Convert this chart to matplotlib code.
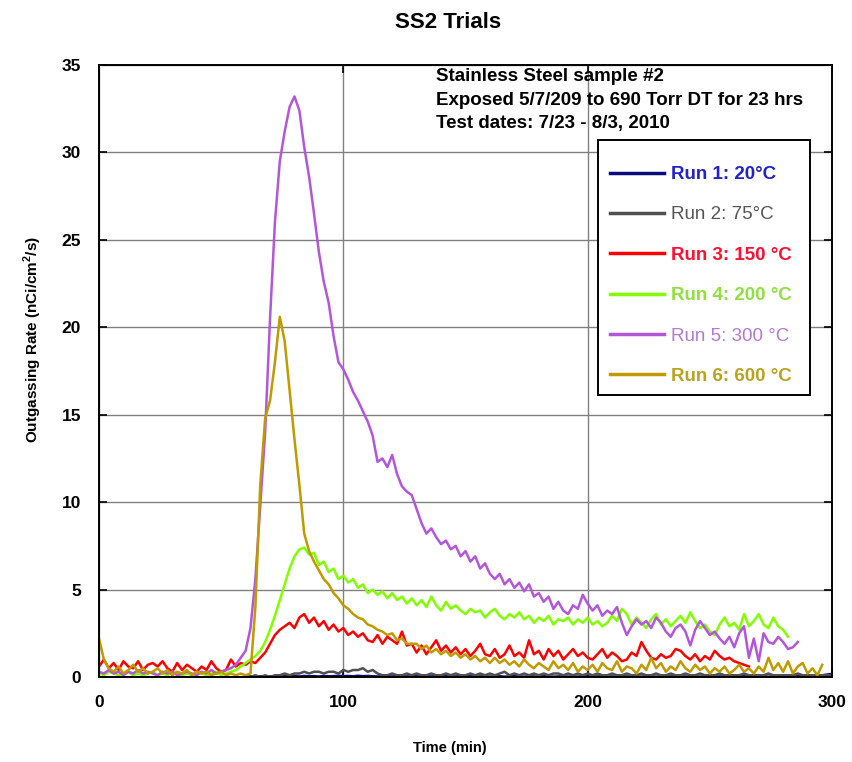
import numpy as np
import matplotlib
matplotlib.use("Agg")
import matplotlib.pyplot as plt
from matplotlib.patches import Rectangle

plt.rcParams['font.family'] = ['Liberation Sans', 'DejaVu Sans']

step = 2

# Run 1: 20 C (starts at t = 60 min)
run1 = [0.02, 0.03, 0.01, 0.04, 0.02, 0.03, 0.05, 0.02, 0.04, 0.03,
        0.05, 0.03, 0.06, 0.04, 0.05, 0.03, 0.06, 0.04, 0.05, 0.07,
        0.05, 0.06, 0.04, 0.07, 0.05, 0.06, 0.04, 0.03, 0.05, 0.04,
        0.03, 0.05, 0.04, 0.03, 0.05, 0.04, 0.02, 0.04, 0.03, 0.05,
        0.03, 0.04, 0.02, 0.03, 0.05, 0.03, 0.04, 0.02, 0.03, 0.04,
        0.02, 0.03, 0.04, 0.02, 0.03, 0.05, 0.03, 0.02, 0.04, 0.03,
        0.02, 0.04, 0.03, 0.02, 0.03, 0.04, 0.02, 0.03, 0.02, 0.04,
        0.03, 0.02, 0.03, 0.04, 0.02, 0.03, 0.02, 0.04, 0.03, 0.02,
        0.03, 0.02, 0.04, 0.03, 0.02, 0.03, 0.02, 0.03, 0.04, 0.02,
        0.03, 0.02, 0.03, 0.02, 0.04, 0.03, 0.02, 0.03, 0.02, 0.03,
        0.02, 0.03, 0.04, 0.02, 0.03, 0.02, 0.03, 0.02, 0.03, 0.02,
        0.03, 0.02, 0.03, 0.04, 0.03, 0.05, 0.06, 0.08, 0.10, 0.14,
        0.18]

# Run 2: 75 C (starts at t = 60 min)
run2 = [0.0, 0.0, 0.1, 0.0, 0.1, 0.0, 0.1, 0.1, 0.2, 0.1,
        0.2, 0.2, 0.3, 0.2, 0.3, 0.3, 0.2, 0.3, 0.3, 0.2,
        0.4, 0.3, 0.4, 0.4, 0.5, 0.3, 0.4, 0.2, 0.1, 0.1,
        0.2, 0.1, 0.1, 0.2, 0.1, 0.2, 0.1, 0.1, 0.2, 0.1,
        0.1, 0.2, 0.1, 0.2, 0.1, 0.1, 0.2, 0.1, 0.2, 0.1,
        0.2, 0.1, 0.2, 0.3, 0.1, 0.2, 0.1, 0.2, 0.1, 0.2,
        0.1, 0.2, 0.1, 0.2, 0.2, 0.1, 0.2, 0.1, 0.2, 0.1,
        0.2, 0.1, 0.2, 0.1, 0.1, 0.2, 0.1, 0.1, 0.2, 0.1,
        0.1, 0.2, 0.1, 0.1, 0.2, 0.1, 0.1, 0.2, 0.1, 0.1,
        0.2, 0.1, 0.1, 0.2, 0.1, 0.1, 0.1, 0.2, 0.1, 0.1,
        0.1, 0.1, 0.2, 0.1, 0.1, 0.1, 0.1, 0.2, 0.1, 0.1,
        0.1, 0.1, 0.1, 0.2, 0.1, 0.1, 0.1, 0.1, 0.1, 0.1,
        0.1]

# Run 3: 150 C (starts at t = 0)
run3 = [0.6, 1.0, 0.5, 0.8, 0.4, 0.9, 0.6, 0.5, 0.9, 0.4,
        0.7, 0.8, 0.6, 0.9, 0.5, 0.3, 0.8, 0.4, 0.7, 0.5,
        0.3, 0.6, 0.4, 0.9, 0.5, 0.3, 0.4, 1.0, 0.6, 0.8,
        0.7, 0.9, 0.8, 1.1, 1.4, 1.9, 2.4, 2.7, 2.9, 3.1,
        2.8, 3.4, 3.6, 3.1, 3.4, 2.9, 3.2, 2.7, 3.0, 2.6,
        2.8, 2.4, 2.6, 2.3, 2.5, 2.1, 2.0, 2.4, 1.9, 2.3,
        2.1, 1.9, 2.6, 1.8, 1.9, 1.4, 1.8, 1.3, 1.7, 2.1,
        1.5, 1.8, 1.4, 1.7, 1.3, 1.6, 1.2, 1.5, 1.9, 1.3,
        1.2, 1.6, 1.1, 1.3, 1.8, 1.2, 1.4, 1.1, 2.1, 1.3,
        1.5, 1.0, 1.6, 1.2, 1.5, 1.0, 1.3, 1.6, 1.2, 1.4,
        1.1, 1.0, 1.3, 1.6, 1.1, 1.4, 1.2, 0.9, 1.0, 1.4,
        1.2, 2.0, 1.5, 1.1, 1.0, 1.3, 1.1, 1.2, 1.6, 1.5,
        1.2, 1.0, 1.3, 0.9, 1.2, 1.0, 1.5, 1.2, 1.0, 1.1,
        0.9, 0.8, 0.7, 0.6]

# Run 4: 200 C (starts at t = 0)
run4 = [0.2, 0.1, 0.3, 0.2, 0.1, 0.2, 0.3, 0.1, 0.2, 0.1,
        0.2, 0.3, 0.1, 0.2, 0.1, 0.3, 0.2, 0.1, 0.2, 0.1,
        0.3, 0.2, 0.1, 0.2, 0.3, 0.1, 0.2, 0.3, 0.4, 0.6,
        0.8, 1.0, 1.2, 1.5, 2.0, 2.7, 3.5, 4.4, 5.3, 6.2,
        6.9, 7.3, 7.4, 7.0, 7.1, 6.4, 6.6, 6.0, 6.2, 5.6,
        5.8, 5.4, 5.6, 5.1, 5.3, 4.8, 5.0, 4.7, 4.9, 4.5,
        4.8, 4.4, 4.6, 4.2, 4.5, 4.1, 4.4, 4.0, 4.6, 4.1,
        3.8, 4.3, 3.9, 4.1, 3.8, 3.6, 3.9, 3.7, 3.8, 3.4,
        3.7, 3.9, 3.5, 3.3, 3.6, 3.4, 3.7, 3.3, 3.5, 3.1,
        3.4, 3.2, 3.5, 3.0, 3.3, 3.2, 3.4, 3.0, 3.3, 3.1,
        3.4, 3.0, 3.2, 2.9, 3.1, 3.5, 3.2, 3.9, 3.6, 3.0,
        3.4, 3.1, 2.8, 3.3, 3.6, 3.0, 3.3, 2.9, 3.2, 3.5,
        3.1, 3.7, 3.2, 2.8, 3.0, 2.6, 2.4, 3.0, 3.4, 2.9,
        3.1, 2.7, 3.6, 2.9, 3.2, 3.6, 3.0, 2.8, 3.4, 2.9,
        2.7, 2.3]

# Run 5: 300 C (starts at t = 0)
run5 = [0.3, 0.2, 0.4, 0.2, 0.3, 0.1, 0.3, 0.2, 0.4, 0.2,
        0.3, 0.2, 0.1, 0.3, 0.2, 0.3, 0.1, 0.2, 0.3, 0.2,
        0.1, 0.3, 0.2, 0.4, 0.2, 0.3, 0.4, 0.5, 0.7, 1.1,
        1.5, 2.8, 5.6, 9.8, 14.0, 20.5, 26.0, 29.5, 31.2, 32.6,
        33.2, 32.4, 30.3, 28.6, 26.5, 24.3, 22.6, 21.4, 19.5, 18.0,
        17.6, 17.0, 16.3, 15.8, 15.2, 14.6, 13.8, 12.3, 12.5, 12.0,
        12.7, 11.6, 10.9, 10.6, 10.4, 9.6, 8.8, 8.2, 8.5, 8.0,
        7.6, 7.8, 7.3, 7.5, 6.9, 7.2, 6.6, 6.9, 6.2, 6.5,
        5.9, 5.6, 5.9, 5.3, 5.6, 5.1, 5.4, 4.9, 5.3, 4.6,
        4.8, 4.3, 4.6, 3.9, 4.3, 3.8, 3.6, 4.1, 3.9, 4.7,
        4.2, 3.8, 4.1, 3.5, 3.8, 3.6, 4.0, 3.1, 2.4, 2.9,
        3.3, 3.0, 3.2, 2.8, 3.4, 3.1, 2.6, 2.3, 2.8, 3.0,
        2.6, 1.8, 2.7, 3.2, 2.8, 2.4, 2.6, 2.2, 1.9, 2.3,
        1.7, 2.5, 2.9, 1.1, 2.2, 0.9, 2.5, 2.0, 1.9, 2.3,
        2.0, 1.6, 1.7, 2.0]

# Run 6: 600 C (starts at t = 0)
run6 = [2.2, 1.0, 0.5, 0.3, 0.6, 0.2, 0.4, 0.7, 0.3, 0.5,
        0.2, 0.3, 0.5, 0.2, 0.4, 0.1, 0.3, 0.2, 0.4, 0.1,
        0.3, 0.2, 0.3, 0.1, 0.2, 0.3, 0.1, 0.2, 0.1, 0.2,
        0.1, 0.2, 4.0, 11.0, 14.8, 15.8, 18.0, 20.6, 19.2, 16.4,
        13.6, 11.0, 8.2, 7.2, 6.6, 6.1, 5.6, 5.3, 4.8, 4.5,
        4.1, 3.9, 3.6, 3.4, 3.3, 3.0, 2.9, 2.7, 2.6, 2.4,
        2.5, 2.1, 2.2, 1.9, 1.9, 1.9, 1.6, 1.8, 1.4, 1.6,
        1.3, 1.5, 1.2, 1.4, 1.1, 1.3, 1.0, 1.2, 0.9, 1.1,
        0.8, 1.1, 0.8, 1.0, 0.7, 0.9, 0.6, 1.0, 0.7, 0.5,
        0.8, 0.6, 0.4, 0.9, 0.5, 0.7, 0.4, 0.8, 0.3, 0.6,
        0.4, 0.7, 0.3, 0.8, 0.5, 0.4, 0.9, 0.3, 0.6, 0.5,
        0.2, 0.7, 0.4, 1.1, 0.5, 0.8, 0.3, 0.6, 0.4, 0.9,
        0.5, 0.3, 0.7, 0.4, 0.6, 0.2, 0.5, 0.3, 0.6, 0.2,
        0.4, 0.7, 0.3, 0.5, 0.2, 0.6, 0.3, 1.1, 0.4, 0.8,
        0.3, 0.9, 0.2, 0.6, 0.8, 0.2, 0.5, 0.1, 0.7]

start_times = [60, 60, 0, 0, 0, 0]
series = [run1, run2, run3, run4, run5, run6]
labels = ["Run 1: 20°C", "Run 2: 75°C", "Run 3: 150 °C",
          "Run 4: 200 °C", "Run 5: 300 °C", "Run 6: 600 °C"]
line_colors = ["#0a0a78", "#505050", "#ff0000", "#80ff00", "#b456dc", "#c09a00"]
text_colors = ["#2222c8", "#555555", "#ff1030", "#90e040", "#b478d8", "#b8a420"]
weights = ["bold", "normal", "bold", "bold", "normal", "bold"]

fig = plt.figure(figsize=(8.52, 7.62), dpi=100)
ax = fig.add_axes([99 / 852, 1 - 677 / 762, (832 - 99) / 852, (677 - 65) / 762])

for t0, y, lab, c in zip(start_times, series, labels, line_colors):
    t = t0 + step * np.arange(len(y))
    ax.plot(t, y, color=c, lw=1.8, label=lab)

ax.set_xlim(0, 300)
ax.set_ylim(0, 35)
ax.set_xticks([0, 100, 200, 300])
ax.set_yticks([0, 5, 10, 15, 20, 25, 30, 35])
ax.grid(True, color="#808080", lw=1.0)
ax.set_axisbelow(True)
ax.tick_params(direction="in", length=6, width=1.2, top=True, right=True,
               labelsize=12.5, pad=13)
for lbl in ax.get_xticklabels() + ax.get_yticklabels():
    lbl.set_fontweight("bold")
for s in ax.spines.values():
    s.set_linewidth(1.4)

ax.text(0.46, 0.995, "Stainless Steel sample #2\nExposed 5/7/209 to 690 Torr DT for 23 hrs\n"
        "Test dates: 7/23 - 8/3, 2010", transform=ax.transAxes, ha="left", va="top",
        fontsize=13.5, fontweight="bold", linespacing=1.5)

# legend box
ax.add_patch(Rectangle((0.681, 0.461), 0.289, 0.4165, transform=ax.transAxes,
                       facecolor="white", edgecolor="black", lw=1.4, zorder=4))
leg = ax.legend(loc="upper left", bbox_to_anchor=(0.697, 0.835), fontsize=13.5,
                handlelength=2.9, handletextpad=0.37, labelspacing=1.24,
                borderpad=0, borderaxespad=0, frameon=False)
leg.set_zorder(5)
for txt, c, w in zip(leg.get_texts(), text_colors, weights):
    txt.set_color(c)
    txt.set_fontweight(w)
for h in leg.get_lines():
    h.set_linewidth(2.5)

fig.text(448 / 852, 1 - 23 / 762, "SS2 Trials", ha="center", va="center",
         fontsize=16, fontweight="bold")
fig.text(450 / 852, 1 - 748 / 762, "Time (min)", ha="center", va="center",
         fontsize=10.5, fontweight="bold")
fig.text(33 / 852, 1 - 340 / 762, "Outgassing Rate (nCi/cm$^\\mathregular{2}$/s)",
         ha="center", va="center", rotation=90, fontsize=11, fontweight="bold")

fig.savefig("out.png", dpi=100)
